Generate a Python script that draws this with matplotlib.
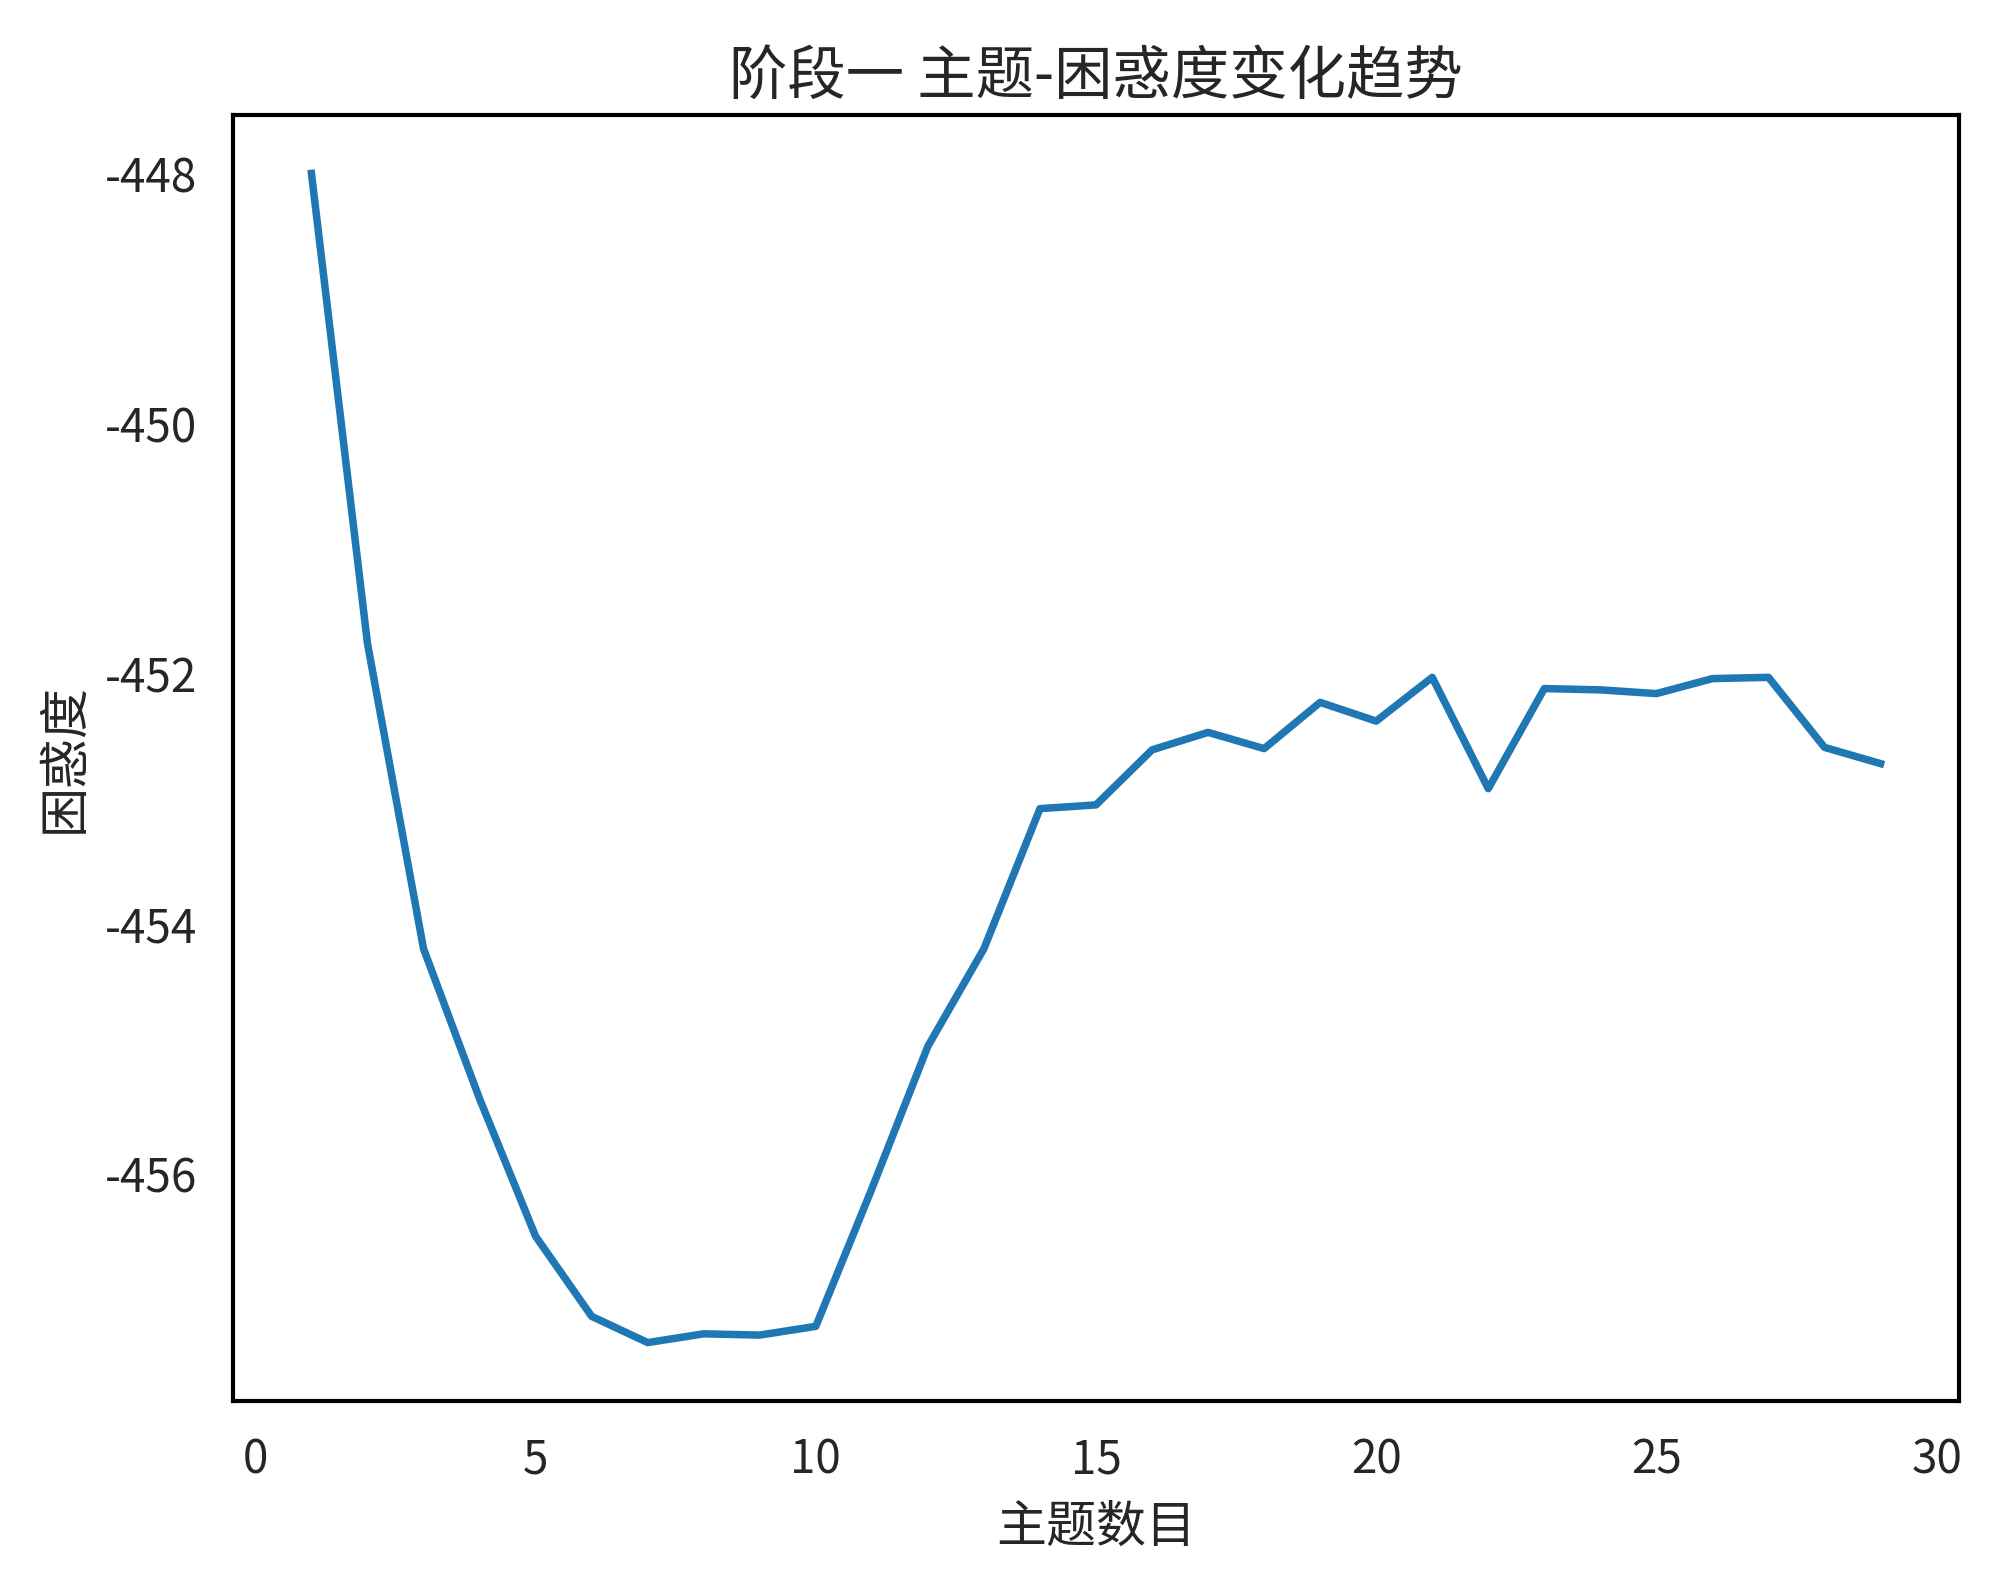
import matplotlib
matplotlib.use("Agg")
import matplotlib.pyplot as plt

plt.rcParams['font.family'] = ['Noto Sans CJK SC', 'DejaVu Sans']
plt.rcParams['axes.unicode_minus'] = False

topics = list(range(1, 30))
perplexity = [-448.00, -451.76, -454.20, -455.40, -456.50, -457.14, -457.35, -457.28,
              -457.29, -457.22, -456.12, -454.98, -454.20, -453.08, -453.05, -452.61,
              -452.47, -452.60, -452.23, -452.38, -452.03, -452.92, -452.12, -452.13,
              -452.16, -452.04, -452.03, -452.59, -452.72]
x_ticks = [0, 5, 10, 15, 20, 25, 30]
y_ticks = [-456, -454, -452, -450, -448]

title = '阶段一 主题-困惑度变化趋势'
xlabel = '主题数目'
ylabel = '困惑度'

fig = plt.figure(figsize=(2000/300, 1579/300), dpi=300)
ax = fig.add_axes([0.1165, 0.1127, 0.9795 - 0.1165, 0.9272 - 0.1127])
ax.plot(topics, perplexity, color='#1f77b4', linewidth=1.8)
ax.set_xticks(x_ticks)
ax.set_yticks(y_ticks)
ax.set_xticklabels([str(t) for t in x_ticks])
ax.set_yticklabels(['-' + str(abs(t)) for t in y_ticks])
ax.tick_params(length=0, labelsize=11, pad=8.5, colors='#262626')
for s in ax.spines.values():
    s.set_color('black')
    s.set_linewidth(1.0)
ax.set_title(title, fontsize=14, color='#262626', pad=5)
ax.set_xlabel(xlabel, fontsize=12, color='#262626', labelpad=4)
ax.set_ylabel(ylabel, fontsize=12, color='#262626', labelpad=3.6)
fig.savefig('out.png', dpi=300, facecolor='white')
